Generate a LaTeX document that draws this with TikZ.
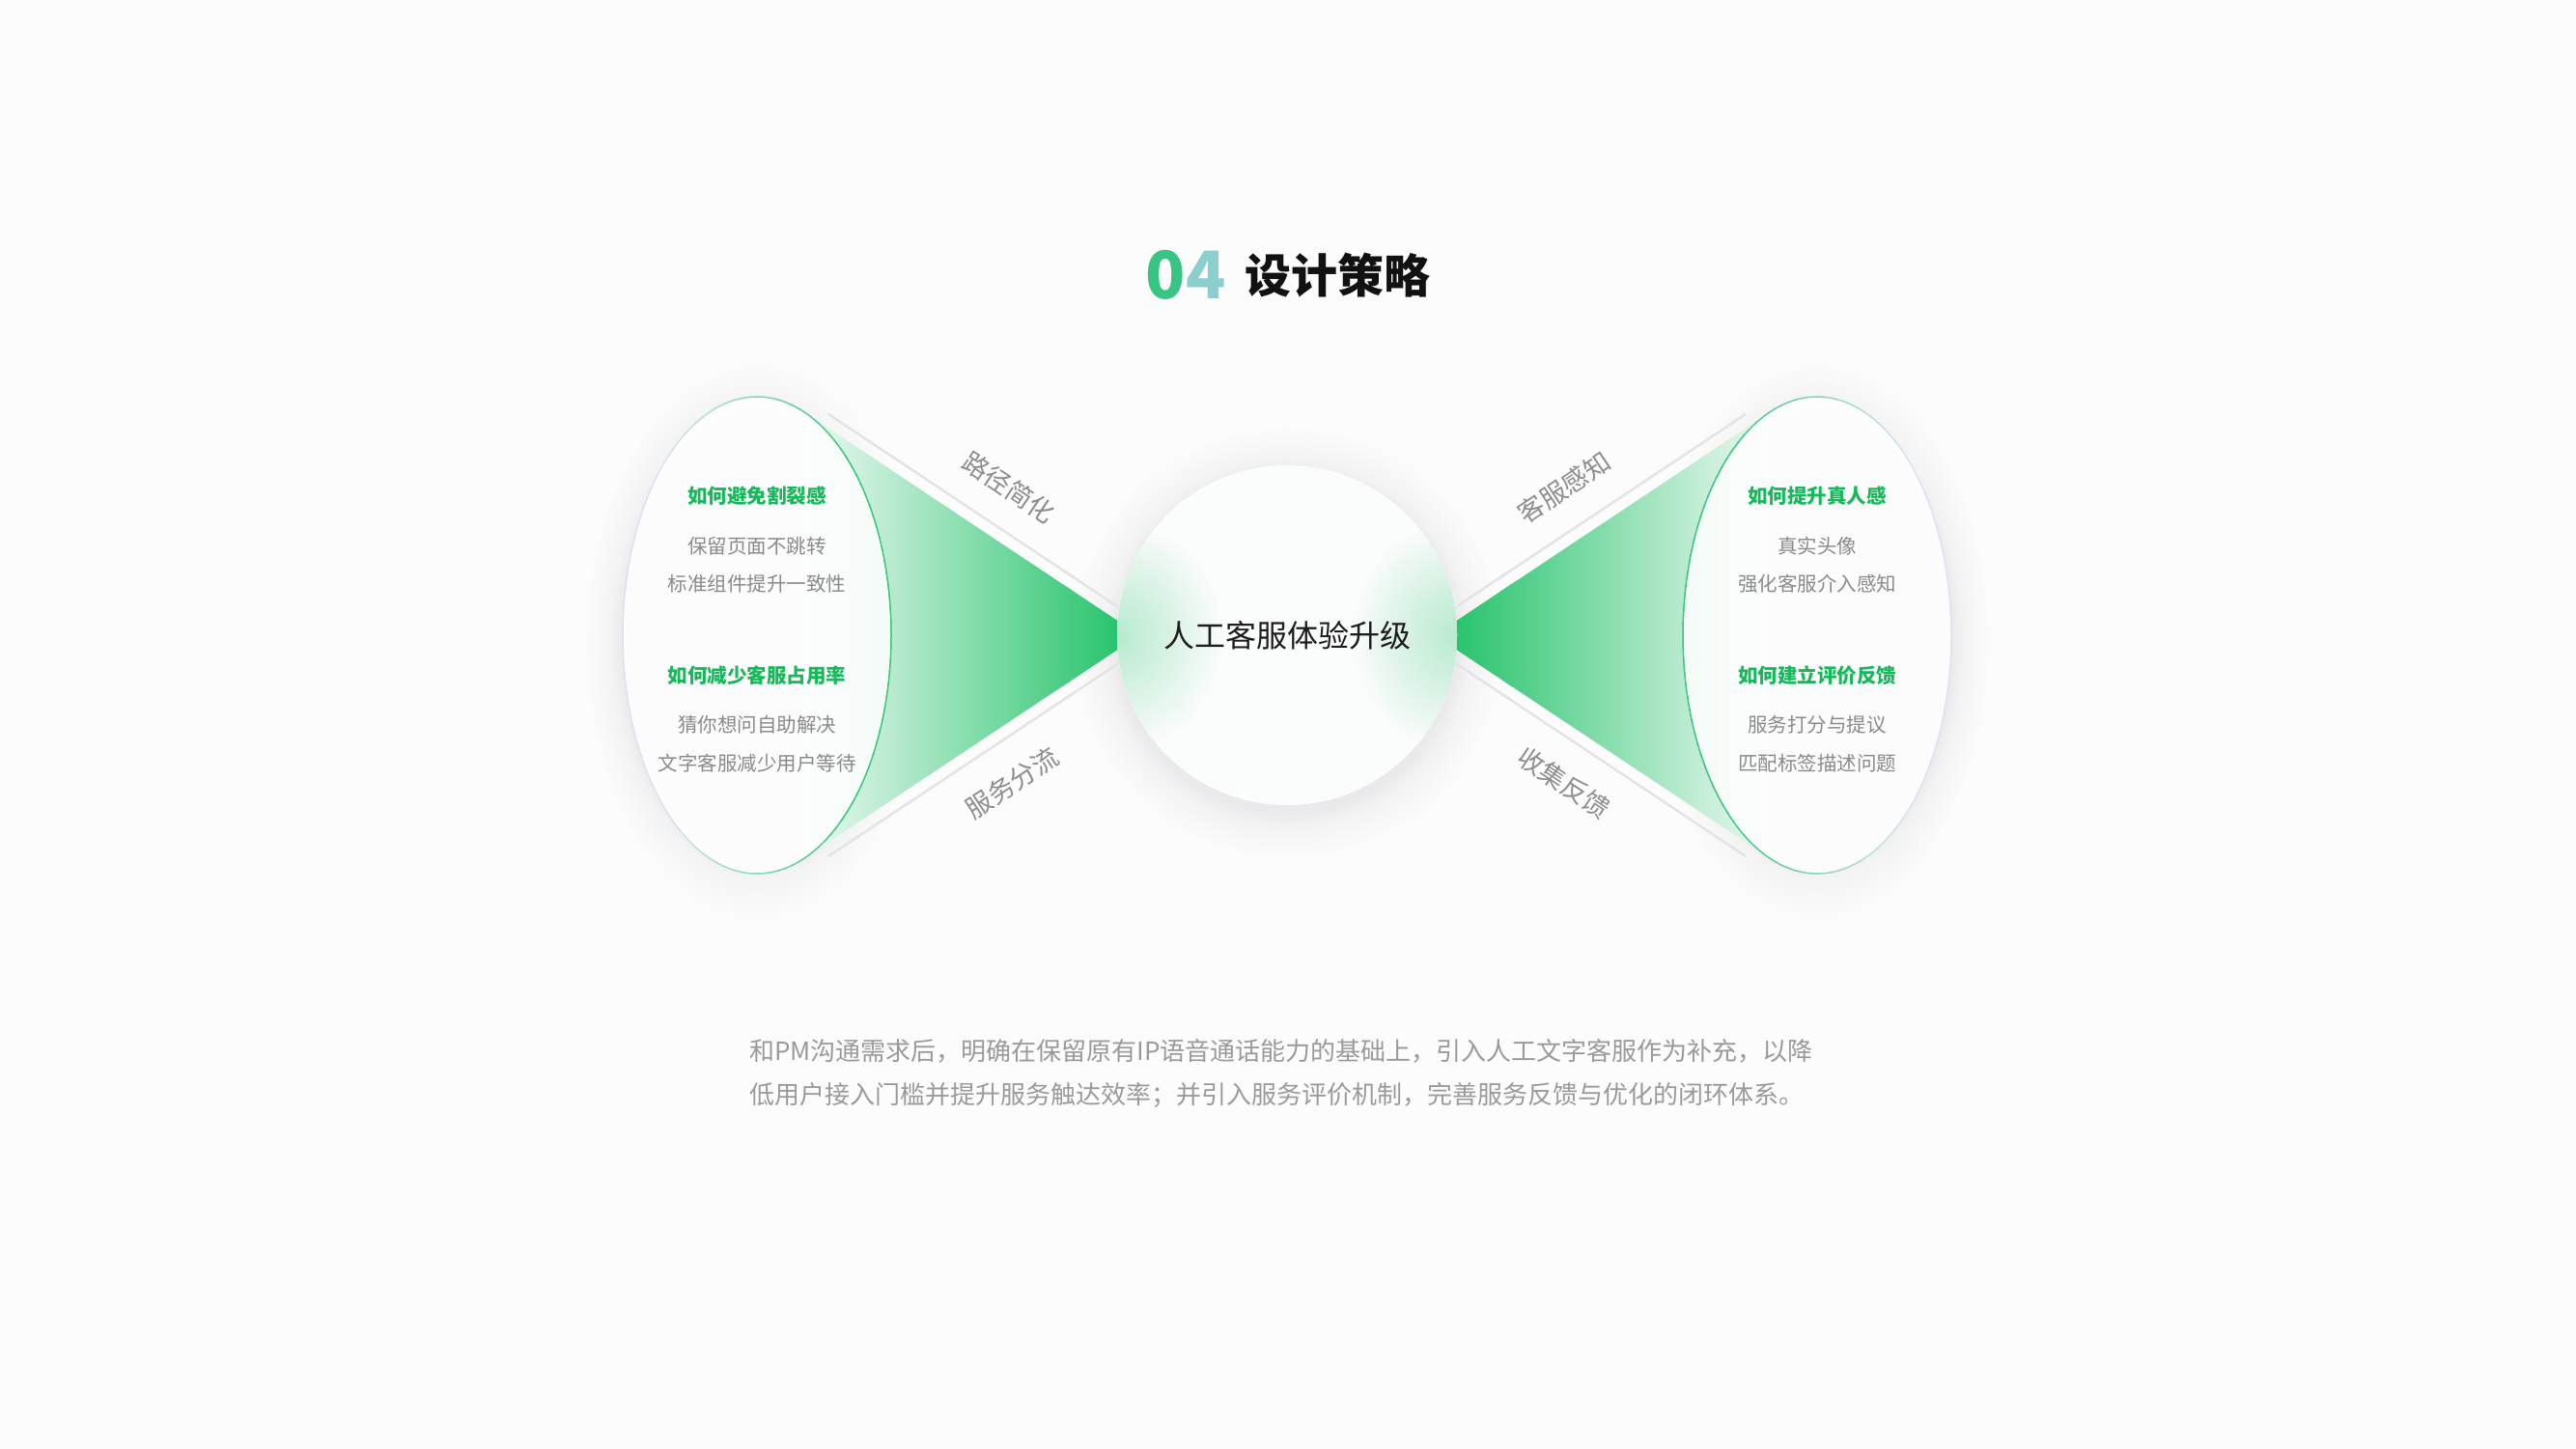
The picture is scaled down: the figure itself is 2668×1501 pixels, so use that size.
\documentclass[tikz,border=0pt]{standalone}
\usepackage{fontspec}
\setmainfont{Noto Sans CJK SC}
\newfontfamily\cjk{Noto Sans CJK SC}
\definecolor{bg}{HTML}{FCFCFD}
\definecolor{shd}{HTML}{EAEAEC}
\definecolor{shdb}{HTML}{F3F3F4}
\definecolor{tgreen}{HTML}{1CC064}
\definecolor{tmid}{HTML}{A9E8C6}
\definecolor{tlight}{HTML}{EEF9F3}
\definecolor{headgreen}{HTML}{16B85A}
\definecolor{txtgray}{HTML}{8A8A8A}
\definecolor{labgray}{HTML}{8E8E8E}
\definecolor{paragray}{HTML}{9A9A9A}
\definecolor{linegray}{HTML}{E4E4E4}
\definecolor{egreen}{HTML}{3CC67E}
\definecolor{elav}{HTML}{DCE3F4}
\definecolor{glow}{HTML}{B8EACF}
\definecolor{cfill}{HTML}{FBFCFC}
\definecolor{zero}{HTML}{38C583}
\definecolor{four}{HTML}{8ACFCE}
\definecolor{titleblack}{HTML}{111111}
\pgfdeclareradialshading{softshadow}{\pgfpoint{0bp}{0bp}}{color(0bp)=(shd); color(19.5bp)=(shd); color(21bp)=(shdb); color(25bp)=(bg); color(50bp)=(bg)}
\pgfdeclareradialshading{edgeglow}{\pgfpoint{0bp}{0bp}}{color(0bp)=(glow); color(8bp)=(glow!70!cfill); color(25bp)=(cfill); color(50bp)=(cfill)}
\tikzset{
  grayline/.style={draw=linegray, line width=2.5pt},
  hd/.style={font=\cjk\bfseries\fontsize{20.5}{24}\selectfont, text=headgreen},
  it/.style={font=\cjk\fontsize{20.5}{24}\selectfont, text=txtgray},
  lab/.style={font=\cjk\fontsize{27}{32}\selectfont, text=labgray},
  para/.style={font=\cjk\fontsize{26}{30}\selectfont, text=paragray, anchor=west, inner sep=0pt}
}
\begin{document}
\begin{tikzpicture}[x=1pt,y=1pt]
\useasboundingbox (0,0) rectangle (2668,1501);
\fill[bg] (0,0) rectangle (2668,1501);

% key points
\coordinate (C) at (1333,843);
\coordinate (L) at (784,843);
\coordinate (R) at (1882,843);
\coordinate (AL) at (1180,843);
\coordinate (AR) at (1486,843);
\coordinate (LT) at (833,1074);
\coordinate (LB) at (833,612);
\coordinate (RT) at (1833,1074);
\coordinate (RB) at (1833,612);
\coordinate (g1s) at (858,1072);
\coordinate (g1e) at (1190,851);
\coordinate (g2s) at (858,614);
\coordinate (g2e) at (1190,835);
\coordinate (g3s) at (1808,1072);
\coordinate (g3e) at (1476,851);
\coordinate (g4s) at (1808,614);
\coordinate (g4e) at (1476,835);

% soft shadows
\shade[shading=softshadow] ([yshift=-6pt]L) ellipse [x radius=180pt, y radius=290pt];
\shade[shading=softshadow] ([yshift=-6pt]R) ellipse [x radius=180pt, y radius=290pt];

% gray guide lines
\draw[grayline] (g1s) -- (g1e);
\draw[grayline] (g2s) -- (g2e);
\draw[grayline] (g3s) -- (g3e);
\draw[grayline] (g4s) -- (g4e);

% green cones
\shade[left color=tlight, middle color=tmid, right color=tgreen] (LT) -- (AL) -- (LB) -- cycle;
\shade[left color=tgreen, middle color=tmid, right color=tlight] (AR) -- (RT) -- (RB) -- cycle;

% ellipse faces
\fill[white, fill opacity=0.86] (L) ellipse [x radius=139pt, y radius=247pt];
\fill[white, fill opacity=0.86] (R) ellipse [x radius=139pt, y radius=247pt];
\foreach \a in {0,3,...,357}{
  \pgfmathsetmacro\p{max(0,min(100,50+75*cos(\a+1.5)))}
  \draw[line width=1.5pt, draw=egreen!\p!elav]
    ([shift={(\a:139pt and 247pt)}]L) arc[start angle=\a, end angle=\a+3.4, x radius=139pt, y radius=247pt];
  \pgfmathsetmacro\q{max(0,min(100,50-75*cos(\a+1.5)))}
  \draw[line width=1.5pt, draw=egreen!\q!elav]
    ([shift={(\a:139pt and 247pt)}]R) arc[start angle=\a, end angle=\a+3.4, x radius=139pt, y radius=247pt];
}

% central circle with soft shadow
\begin{scope}
  \clip (0,0) rectangle (1160,1501) (1506,0) rectangle (2668,1501) (1160,0) rectangle (1506,1501);
\end{scope}
\shade[shading=softshadow] ([yshift=-8pt]C) circle [radius=226pt];
% redraw cone tips that the shadow covered
\begin{scope}
  \clip (1100,700) rectangle (1566,990);
  \shade[left color=tlight, middle color=tmid, right color=tgreen] (LT) -- (AL) -- (LB) -- cycle;
  \shade[left color=tgreen, middle color=tmid, right color=tlight] (AR) -- (RT) -- (RB) -- cycle;
  \draw[grayline] (g1s) -- (g1e);
  \draw[grayline] (g2s) -- (g2e);
  \draw[grayline] (g3s) -- (g3e);
  \draw[grayline] (g4s) -- (g4e);
\end{scope}
\fill[cfill] (C) circle [radius=176pt];
\begin{scope}
  \clip (C) circle [radius=176pt];
  \shade[shading=edgeglow] (1157,843) ellipse [x radius=110pt, y radius=120pt];
  \shade[shading=edgeglow] (1509,843) ellipse [x radius=110pt, y radius=120pt];
\end{scope}
\node[font=\cjk\fontsize{32}{36}\selectfont, text=titleblack!95] (center) at (C) {人工客服体验升级};

% title
\node[font=\cjk\bfseries\fontsize{68}{72}\selectfont, inner sep=0pt] (num) at (1228,1216)
  {\textcolor{zero}{0}\textcolor{four}{4}};
\node[font=\cjk\bfseries\fontsize{48}{52}\selectfont, text=titleblack, inner sep=0pt] (title) at (1385,1216) {设计策略};

% labels on guides
\node[lab, rotate=-33.7] (l1) at (1045,996) {路径简化};
\node[lab, rotate=33.7] (l2) at (1048,690) {服务分流};
\node[lab, rotate=33.7] (l3) at (1620,996) {客服感知};
\node[lab, rotate=-33.7] (l4) at (1620,690) {收集反馈};

% left ellipse text
\node[hd] (lh1) at (784,987) {如何避免割裂感};
\node[it] (li1) at (784,935) {保留页面不跳转};
\node[it] (li2) at (784,896) {标准组件提升一致性};
\node[hd] (lh2) at (784,801) {如何减少客服占用率};
\node[it] (li3) at (784,750) {猜你想问自助解决};
\node[it] (li4) at (784,710) {文字客服减少用户等待};

% right ellipse text
\node[hd] (rh1) at (1882,987) {如何提升真人感};
\node[it] (ri1) at (1882,935) {真实头像};
\node[it] (ri2) at (1882,896) {强化客服介入感知};
\node[hd] (rh2) at (1882,801) {如何建立评价反馈};
\node[it] (ri3) at (1882,750) {服务打分与提议};
\node[it] (ri4) at (1882,710) {匹配标签描述问题};

% paragraph
\node[para] (p1) at (776,412) {和PM沟通需求后，明确在保留原有IP语音通话能力的基础上，引入人工文字客服作为补充，以降};
\node[para] (p2) at (776,366) {低用户接入门槛并提升服务触达效率；并引入服务评价机制，完善服务反馈与优化的闭环体系。};
\end{tikzpicture}
\end{document}
